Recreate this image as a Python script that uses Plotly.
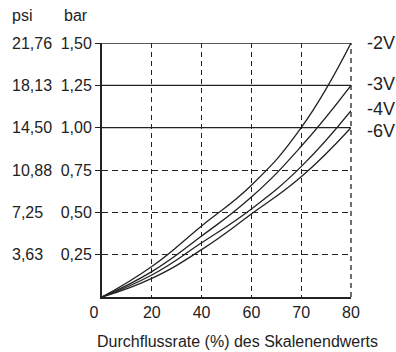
import plotly.graph_objects as go

# Data
flow_labels = ["0", "20", "40", "60", "70", "80"]
bar_ticks = [0.25, 0.50, 0.75, 1.00, 1.25, 1.50]
bar_labels = ["0,25", "0,50", "0,75", "1,00", "1,25", "1,50"]
psi_labels = ["3,63", "7,25", "10,88", "14,50", "18,13", "21,76"]
solid_levels = [1.00, 1.25, 1.50]

series_names = ["-2V", "-3V", "-4V", "-6V"]
v_2 = [0, 0.18, 0.42, 0.66, 1.00, 1.50]
v_3 = [0, 0.15, 0.36, 0.59, 0.89, 1.25]
v_4 = [0, 0.13, 0.32, 0.52, 0.77, 1.10]
v_6 = [0, 0.11, 0.28, 0.49, 0.71, 1.00]
series_values = [v_2, v_3, v_4, v_6]
label_shift = [0, 1, 2, -3]

xpos = list(range(len(flow_labels)))
# first label sits slightly left of the origin in the reference
tick_text = [flow_labels[0] + "\u2002\u2002"] + flow_labels[1:]
FONT = "Liberation Sans, Arial, sans-serif"
INK = "#222222"

fig = go.Figure()
for name, vals in zip(series_names, series_values):
    fig.add_trace(go.Scatter(x=xpos, y=vals, mode="lines", name=name,
                             line=dict(color=INK, width=1.3, shape="spline", smoothing=1.3),
                             showlegend=False, hoverinfo="skip"))

annotations = []
for name, vals, sh in zip(series_names, series_values, label_shift):
    annotations.append(dict(x=1.055, xref="paper", y=vals[-1], yref="y", text=name,
                            xanchor="left", yanchor="middle", showarrow=False,
                            yshift=sh, font=dict(size=18, color=INK, family=FONT)))
for v, lab in zip(bar_ticks, psi_labels):
    annotations.append(dict(x=-0.37, xref="paper", y=v, yref="y", text=lab,
                            xanchor="left", yanchor="middle", showarrow=False,
                            font=dict(size=16, color=INK, family=FONT)))
annotations.append(dict(x=-0.37, xref="paper", y=1.11, yref="paper", text="psi",
                        xanchor="left", yanchor="middle", showarrow=False,
                        font=dict(size=16, color=INK, family=FONT)))
annotations.append(dict(x=-0.162, xref="paper", y=1.11, yref="paper", text="bar",
                        xanchor="left", yanchor="middle", showarrow=False,
                        font=dict(size=16, color=INK, family=FONT)))
annotations.append(dict(x=0.546, xref="paper", y=-0.175, yref="paper",
                        text="Durchflussrate (%) des Skalenendwerts",
                        xanchor="center", yanchor="middle", showarrow=False,
                        font=dict(size=16, color=INK, family=FONT)))

shapes = []
for lv in solid_levels:
    shapes.append(dict(type="line", xref="paper", x0=0, x1=1, yref="y", y0=lv, y1=lv,
                       line=dict(color=INK, width=1.4), layer="below"))
shapes.append(dict(type="line", xref="paper", x0=1, x1=1, yref="paper", y0=0, y1=1,
                   line=dict(color=INK, width=1.3, dash="5px,4px"), layer="below"))

fig.update_layout(
    width=396, height=352,
    margin=dict(l=102, r=45, t=43, b=55),
    paper_bgcolor="white", plot_bgcolor="white",
    font=dict(family=FONT, size=16, color=INK),
    annotations=annotations, shapes=shapes,
)
fig.update_xaxes(range=[0, len(flow_labels) - 1], tickvals=xpos, ticktext=tick_text,
                 showgrid=True, gridcolor=INK, gridwidth=1.3, griddash="5px,4px",
                 showline=True, linecolor=INK, linewidth=2, ticks="",
                 ticklabelstandoff=0, zeroline=False, tickfont=dict(size=16))
fig.update_yaxes(range=[0, 1.5], tickvals=bar_ticks, ticktext=bar_labels,
                 showgrid=True, gridcolor=INK, gridwidth=1.3, griddash="6px,4px",
                 showline=True, linecolor=INK, linewidth=2, ticks="outside",
                 ticklen=5, tickcolor=INK, tickwidth=1.3, zeroline=False,
                 tickfont=dict(size=16))

fig.write_html("out.html", config={"displayModeBar": False},
               post_script="document.body.style.margin='0';")
